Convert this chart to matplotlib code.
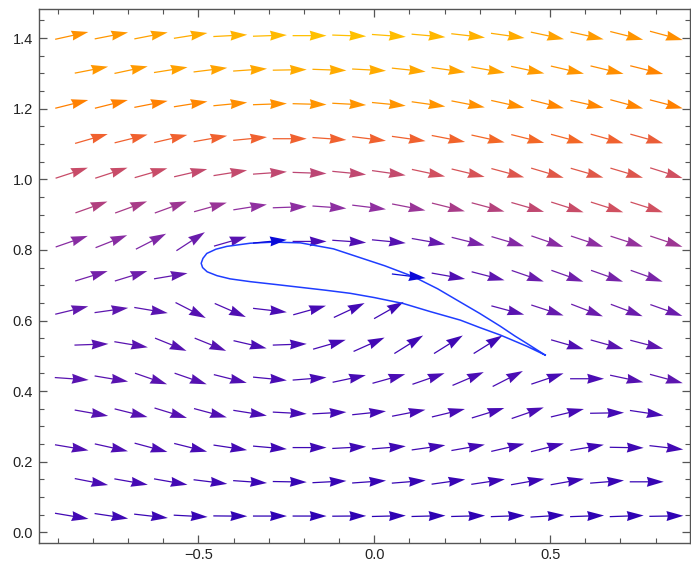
import numpy as np
import matplotlib
matplotlib.use("Agg")
import matplotlib.pyplot as plt
from matplotlib.colors import LinearSegmentedColormap

nan = np.nan
# Row y-positions (bottom to top); odd rows (16 arrows) and even rows (15 arrows) alternate
row_y = [0.046, 0.143, 0.240, 0.338, 0.435, 0.532, 0.629, 0.726, 0.824, 0.921, 1.018, 1.115, 1.213, 1.310, 1.407]
x_odd = np.linspace(-0.860, 0.8305, 16)
x_even = np.linspace(-0.804, 0.7747, 15)

# Arrow direction (degrees) per row; nan = no arrow
angles = [
    [-9.5, -8.5, -6.5, -3, -0.5, 0, 0, 0.5, 1.5, 1.5, 1.5, 2, 3.5, 2, 2, 1],
    [-11, -10, -10, -7, -4, -1, 3, 4, 4.5, 8, 8.5, 10, 10, 4.5, 0],
    [-9.5, -12.5, -15, -14, -8.5, -5, 0, 3, 4.5, 8, 10, 13, 14, 9.5, -1, -6.5],
    [-10, -14, -17, -15, -9, -3, 3, 6, 11, 13.5, 17, 19, 13.5, 1, -8.5],
    [-4, -9.5, -19, -19, -14, -5.5, 4.5, 12, 15.5, 19, 23, 27, 18.5, 0, -12, -15],
    [2, -9.5, -22, -22, -13, 2, 16, 24, 32, 32, 32, nan, -16, -15.5, -14.5],
    [13.5, 8, -9.5, -27, -23.5, -6.5, 15.5, 25, 29.5, nan, nan, -15, -18, -21, -20.5, -19.5],
    [17, 17, 9.5, nan, nan, nan, nan, nan, -7, -10, -14.5, -19, -19.5, -19.5, -19.5],
    [19, 21.5, 27, 33, 16, 5.5, 0, -4, -5.5, -10, -14, -16.5, -19, -18.5, -18, -18.5],
    [19.5, 20, 20, 15.5, 9, 2, -4, -7, -11, -14, -15, -16, -17.5, -17.5, -17.5],
    [18, 18, 16, 13, 9, 4, -2, -5.5, -8, -12, -13.5, -15, -16.5, -16, -16.5, -17.5],
    [16, 14, 13, 10, 5.5, 0, -4, -7, -8, -11, -12.5, -14, -15, -15.5, -15.5],
    [14, 14, 11, 9, 5.5, 2, -1.5, -3, -5.5, -8, -11, -12.5, -14, -12.5, -15, -14.5],
    [11, 12, 9, 7, 4, 1, -2, -3, -6, -8, -10, -12, -13, -13.5, -14],
    [12.4, 11, 11, 9, 3, 2, 0, -2, -4, -5, -6.5, -8, -12, -12.5, -14, -15],
]

# Relative magnitude (colour level 0..1) per arrow
levels = [
    [0.12, 0.1, 0.08, 0.06, 0.04, 0.03, 0.02, 0.02, 0.02, 0.02, 0.02, 0.02, 0.02, 0.02, 0.02, 0.02],
    [0.15, 0.13, 0.12, 0.1, 0.08, 0.06, 0.06, 0.06, 0.06, 0.07, 0.08, 0.08, 0.08, 0.07, 0.06],
    [0.18, 0.17, 0.16, 0.14, 0.12, 0.1, 0.1, 0.1, 0.1, 0.11, 0.12, 0.12, 0.12, 0.1, 0.1, 0.12],
    [0.2, 0.2, 0.2, 0.18, 0.15, 0.13, 0.12, 0.12, 0.13, 0.14, 0.14, 0.15, 0.13, 0.12, 0.14],
    [0.22, 0.22, 0.22, 0.2, 0.18, 0.15, 0.14, 0.14, 0.15, 0.15, 0.16, 0.16, 0.14, 0.16, 0.2, 0.24],
    [0.22, 0.22, 0.2, 0.2, 0.16, 0.14, 0.13, 0.12, 0.1, 0.1, 0.1, nan, 0.18, 0.22, 0.24],
    [0.26, 0.24, 0.22, 0.2, 0.18, 0.15, 0.14, 0.12, 0.1, nan, nan, 0.22, 0.28, 0.3, 0.3, 0.3],
    [0.34, 0.32, 0.26, nan, nan, nan, nan, nan, 0.1, 0.18, 0.24, 0.3, 0.33, 0.35, 0.36],
    [0.42, 0.42, 0.38, 0.3, 0.22, 0.1, 0.16, 0.18, 0.2, 0.28, 0.36, 0.4, 0.42, 0.44, 0.46, 0.48],
    [0.52, 0.5, 0.48, 0.47, 0.45, 0.44, 0.44, 0.45, 0.47, 0.5, 0.53, 0.56, 0.58, 0.6, 0.6],
    [0.58, 0.58, 0.58, 0.57, 0.57, 0.56, 0.55, 0.56, 0.57, 0.6, 0.62, 0.64, 0.65, 0.65, 0.64, 0.6],
    [0.7, 0.7, 0.7, 0.7, 0.7, 0.7, 0.7, 0.7, 0.7, 0.71, 0.72, 0.72, 0.72, 0.7, 0.68],
    [0.8, 0.8, 0.8, 0.82, 0.84, 0.85, 0.86, 0.86, 0.86, 0.86, 0.85, 0.84, 0.82, 0.82, 0.81, 0.8],
    [0.87, 0.88, 0.9, 0.91, 0.92, 0.93, 0.93, 0.93, 0.92, 0.91, 0.9, 0.88, 0.86, 0.84, 0.81],
    [0.85, 0.87, 0.9, 0.93, 0.96, 0.98, 1.0, 1.0, 0.99, 0.97, 0.95, 0.93, 0.9, 0.88, 0.86, 0.84],
]

# Arrows lying on the highlighted stream line: (row index, column index)
stream_arrows = [(7, 8), (8, 5)]

# Highlighted stream line
stream_x = [0.486, 0.434, 0.358, 0.30, 0.245, 0.16, 0.083, 0.0, -0.068, -0.14, -0.21, -0.28,
            -0.352, -0.41, -0.447, -0.475, -0.488, -0.492, -0.487, -0.476, -0.45, -0.419,
            -0.352, -0.286, -0.21, -0.116, -0.04, 0.03, 0.112, 0.18, 0.245, 0.30, 0.358,
            0.40, 0.434, 0.486]
stream_y = [0.502, 0.527, 0.559, 0.58, 0.601, 0.625, 0.648, 0.665, 0.677, 0.686, 0.694, 0.702,
            0.710, 0.718, 0.727, 0.738, 0.750, 0.762, 0.776, 0.790, 0.802, 0.810,
            0.819, 0.822, 0.820, 0.803, 0.778, 0.755, 0.724, 0.69, 0.652, 0.62, 0.584,
            0.556, 0.535, 0.502]

cmap = LinearSegmentedColormap.from_list("field", [
    (0.0, "#2a00b4"), (0.15, "#4a0cb4"), (0.3, "#6a1cac"), (0.45, "#9030a0"),
    (0.52, "#b04080"), (0.6, "#d05060"), (0.7, "#f06030"), (0.8, "#ff8000"),
    (0.9, "#ffa000"), (1.0, "#ffc000")])

X, Y, U, V, C = [], [], [], [], []
BX, BY, BU, BV = [], [], [], []
for i, (yy, ang, lev) in enumerate(zip(row_y, angles, levels)):
    xs = x_odd if len(ang) == 16 else x_even
    for j, (xx, a, c) in enumerate(zip(xs, ang, lev)):
        if np.isnan(a):
            continue
        r = np.deg2rad(a)
        if (i, j) in stream_arrows:
            BX.append(xx); BY.append(yy); BU.append(np.cos(r)); BV.append(np.sin(r))
        else:
            X.append(xx); Y.append(yy); U.append(np.cos(r)); V.append(np.sin(r)); C.append(c)

fig = plt.figure(figsize=(6.91, 5.69), dpi=100)
ax = fig.add_axes([38.5 / 691, 1 - 542.7 / 569, (690 - 38.5) / 691, (542.7 - 9) / 569])

L = 0.0966
qkw = dict(angles="xy", scale_units="xy", scale=1 / L, pivot="middle", units="dots",
           width=1.25, headwidth=8.0, headlength=13.5, headaxislength=12.5, linewidth=0)
ax.quiver(X, Y, U, V, C, cmap=cmap, norm=plt.Normalize(0, 1), **qkw)
ax.plot(stream_x, stream_y, color="#1f3dff", lw=1.1, zorder=3)
ax.quiver(BX, BY, BU, BV, color="#0a0ad8", zorder=4, **qkw)

ax.set_xlim(-0.9545, 0.8977)
ax.set_ylim(-0.0295, 1.4825)
ax.set_xticks([-0.5, 0.0, 0.5])
ax.set_xticks(np.arange(-0.9, 0.85, 0.1), minor=True)
ax.set_yticks([0.0, 0.2, 0.4, 0.6, 0.8, 1.0, 1.2, 1.4])
ax.set_yticks(np.arange(0.0, 1.48, 0.05), minor=True)
ax.set_xticklabels(["\u22120.5", "0.0", "0.5"])
ax.set_yticklabels([f"{v:.1f}" for v in [0.0, 0.2, 0.4, 0.6, 0.8, 1.0, 1.2, 1.4]])
for lab in ax.get_xticklabels() + ax.get_yticklabels():
    lab.set_family(["Liberation Sans", "DejaVu Sans"])
    lab.set_fontsize(10.5)
    lab.set_color("#222222")
ax.tick_params(which="both", direction="in", top=True, right=True, color="#555555")
ax.tick_params(which="major", length=6, width=0.9, pad=4)
ax.tick_params(which="minor", length=3.8, width=0.8)
for s in ax.spines.values():
    s.set_color("#555555")
    s.set_linewidth(1.0)

fig.savefig("out.png", dpi=100)
